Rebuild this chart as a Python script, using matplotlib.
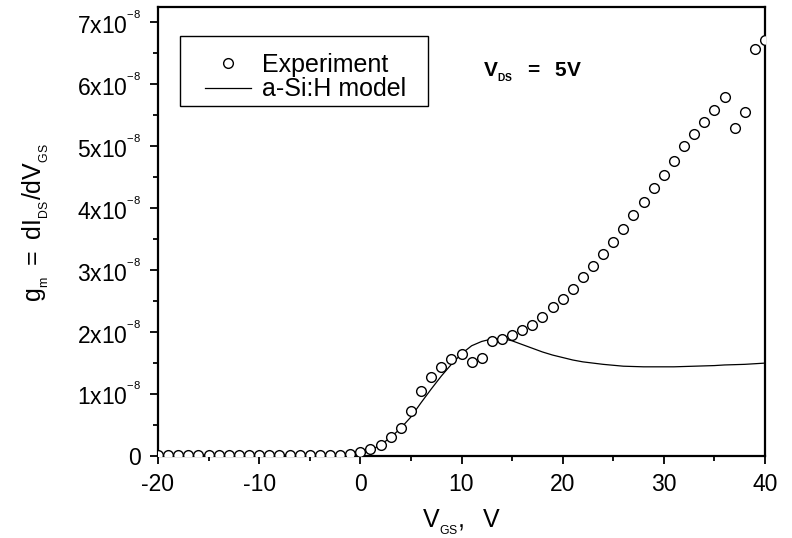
import numpy as np
import matplotlib
matplotlib.use("Agg")
import matplotlib.pyplot as plt
from matplotlib.patches import Rectangle
from matplotlib.ticker import MultipleLocator, FuncFormatter

plt.rcParams['font.family'] = ['Liberation Sans', 'DejaVu Sans']
plt.rcParams['mathtext.fontset'] = 'custom'
plt.rcParams['mathtext.rm'] = 'Liberation Sans'
plt.rcParams['mathtext.it'] = 'Liberation Sans'
plt.rcParams['mathtext.bf'] = 'Liberation Sans:bold'
plt.rcParams['axes.unicode_minus'] = False

# Measured transconductance, V_DS = 5 V (units of 1e-8 S)
vgs_exp = list(range(-20, 41))
gm_exp = [0.01, 0.01, 0.01, 0.01, 0.01, 0.01, 0.01, 0.01, 0.01, 0.01,
          0.01, 0.01, 0.01, 0.01, 0.01, 0.01, 0.01, 0.01, 0.02, 0.04,
          0.07, 0.11, 0.18, 0.30, 0.45, 0.72, 1.055, 1.28, 1.44, 1.56,
          1.65, 1.51, 1.58, 1.86, 1.89, 1.955, 2.03, 2.12, 2.25, 2.40,
          2.54, 2.70, 2.89, 3.07, 3.26, 3.46, 3.67, 3.89, 4.10, 4.32,
          4.53, 4.77, 5.00, 5.20, 5.39, 5.59, 5.79, 5.29, 5.56, 6.57,
          6.72]

# a-Si:H model transconductance (units of 1e-8 S)
vgs_model = list(range(0, 41))
gm_model = [0.02, 0.09, 0.18, 0.30, 0.45, 0.63, 0.86, 1.08, 1.29, 1.48,
            1.65, 1.78, 1.85, 1.89, 1.90, 1.86, 1.80, 1.74, 1.68, 1.63,
            1.59, 1.55, 1.52, 1.50, 1.48, 1.465, 1.45, 1.445, 1.44, 1.44,
            1.44, 1.44, 1.445, 1.45, 1.455, 1.46, 1.47, 1.475, 1.48, 1.49,
            1.50]

scale = 1e-8

fig = plt.figure(figsize=(7.92, 5.38), dpi=100)
ax = fig.add_axes([158 / 792, 1 - 456 / 538, (765 - 158) / 792, (456 - 7) / 538])

ax.plot(vgs_exp, np.array(gm_exp) * scale, linestyle='none', marker='o',
        markersize=7, markerfacecolor='white', markeredgecolor='black',
        markeredgewidth=1.0, label='Experiment', zorder=3)
ax.plot(vgs_model, np.array(gm_model) * scale, color='black', linewidth=0.9,
        label='a-Si:H model', zorder=2)

ax.set_xlim(-20, 40)
ax.set_ylim(0, 7.25e-8)

ax.xaxis.set_major_locator(MultipleLocator(10))
ax.xaxis.set_minor_locator(MultipleLocator(5))
ax.yaxis.set_major_locator(MultipleLocator(1e-8))
ax.yaxis.set_minor_locator(MultipleLocator(0.5e-8))


def ytick_fmt(v, pos):
    n = int(round(v / scale))
    if n == 0:
        return '0'
    return r'$\mathregular{%dx10^{{}^{-8}}}$' % n


ax.yaxis.set_major_formatter(FuncFormatter(ytick_fmt))

for s in ax.spines.values():
    s.set_linewidth(1.6)
ax.tick_params(which='major', direction='out', length=6, width=1.3,
               labelsize=16.5)
ax.tick_params(axis='x', which='major', pad=6)
ax.tick_params(axis='y', which='major', pad=6)
ax.tick_params(which='minor', direction='out', length=3.5, width=1.3)

ax.set_xlabel(r'$\mathregular{V_{{}_{GS}},\ \ V}$', fontsize=18, va='top')
ax.xaxis.set_label_coords(0.5, -0.115)
ax.set_ylabel(r'$\mathregular{g_{{}_{m}}\ =\ dI_{{}_{DS}}/dV_{{}_{GS}}}$',
              fontsize=18)
ax.yaxis.set_label_coords(-0.176, 0.521)

ax.text(12.1, 6.2e-8, r'$\mathbf{V_{{}_{DS}}\ \ =\ \ 5V}$', fontsize=15,
        ha='left', va='center')

# legend frame drawn as its own box, entries placed inside it
ax.add_patch(Rectangle((0.0362, 0.7795), 0.4086, 0.1559, transform=ax.transAxes,
                       facecolor='white', edgecolor='black', linewidth=1.0,
                       zorder=4))
leg = ax.legend(loc='upper left', bbox_to_anchor=(0.0774, 0.898),
                borderaxespad=0, borderpad=0, fontsize=18, frameon=False,
                handlelength=1.85, handletextpad=0.42, labelspacing=0.02)
leg.set_zorder(5)

fig.savefig('out.png', dpi=100)
